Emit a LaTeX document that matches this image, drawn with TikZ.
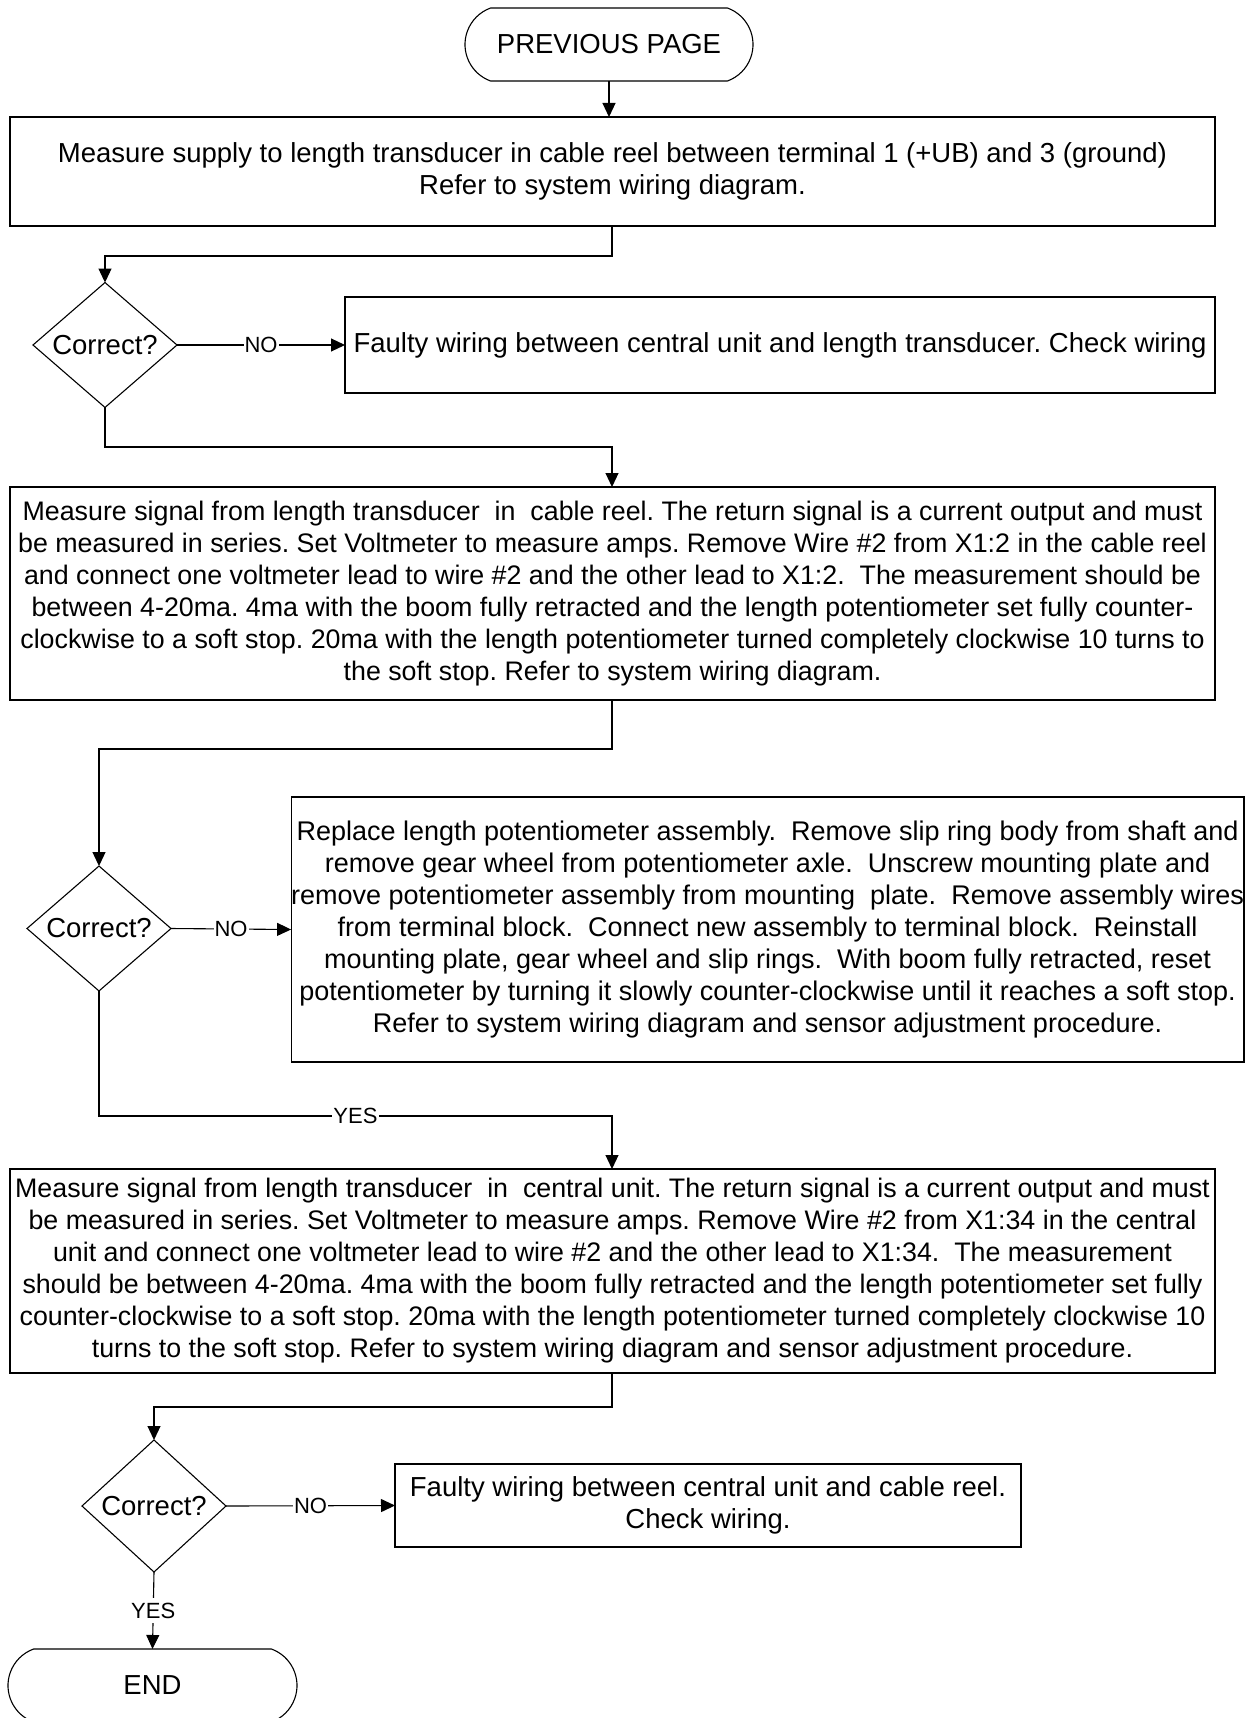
\documentclass[tikz,border=0pt]{standalone}
\usepackage{fontspec}
\setmainfont{Liberation Sans}
\frenchspacing
\usetikzlibrary{arrows.meta,shapes.geometric,shapes.misc}

\begin{document}
\begin{tikzpicture}[x=1pt, y=-1pt, line width=1.1pt,
  every node/.style = {draw, align=center, inner sep=0pt, outer sep=0pt,
    font=\fontsize{27.5pt}{32pt}\selectfont},
  terminal/.style = {shape=rounded rectangle, rounded rectangle arc length=140,
    minimum height=73pt},
  stepbox/.style = {shape=rectangle},
  longbox/.style = {shape=rectangle, font=\fontsize{26.8pt}{32pt}\selectfont},
  decision/.style = {shape=diamond, minimum width=144pt},
  lbl/.style = {draw=none, fill=white, inner xsep=1pt, inner ysep=5pt,
    font=\fontsize{22pt}{24pt}\selectfont},
  flow/.style = {-{Triangle[length=14pt,width=13pt]}}]
  \useasboundingbox (0,0) rectangle (1250,1718);
  \node[terminal, minimum width=288pt] (prev) at (609,44.5) {PREVIOUS PAGE};
  \node[stepbox, minimum width=1205pt, minimum height=109pt] (supply) at (612.5,171.5)
    {Measure supply to length transducer in cable reel between terminal 1 (+UB) and 3 (ground)\\
     Refer to system wiring diagram.};
  \node[decision, minimum height=120pt] (check1) at (105,345) {Correct?};
  \node[stepbox, minimum width=870pt, minimum height=96pt] (fault1) at (780,345)
    {Faulty wiring between central unit and length transducer. Check wiring};
  \node[longbox, minimum width=1205pt, minimum height=213pt] (reel) at (612.5,593.5)
    {Measure signal from length transducer\ \ in\ \ cable reel. The return signal is a current output and must\\
     be measured in series. Set Voltmeter to measure amps. Remove Wire \#2 from X1:2 in the cable reel\\
     and connect one voltmeter lead to wire \#2 and the other lead to X1:2.\ \ The measurement should be\\
     between 4-20ma. 4ma with the boom fully retracted and the length potentiometer set fully counter-\\
     clockwise to a soft stop. 20ma with the length potentiometer turned completely clockwise 10 turns to\\
     the soft stop. Refer to system wiring diagram.};
  \node[decision, minimum height=121pt] (check2) at (99,928.5) {Correct?};
  \node[stepbox, minimum width=951pt, minimum height=265pt,
    font=\fontsize{27pt}{32pt}\selectfont] (replace) at (767.5,929.5)
    {Replace length potentiometer assembly.\ \ Remove slip ring body from shaft and\\
     remove gear wheel from potentiometer axle.\ \ Unscrew mounting plate and\\
     remove potentiometer assembly from mounting\ \ plate.\ \ Remove assembly wires\\
     from terminal block.\ \ Connect new assembly to terminal block.\ \ Reinstall\\
     mounting plate, gear wheel and slip rings.\ \ With boom fully retracted, reset\\
     potentiometer by turning it slowly counter-clockwise until it reaches a soft stop.\\
     Refer to system wiring diagram and sensor adjustment procedure.};
  \node[longbox, minimum width=1205pt, minimum height=204pt] (central) at (612.5,1271)
    {Measure signal from length transducer\ \ in\ \ central unit. The return signal is a current output and must\\
     be measured in series. Set Voltmeter to measure amps. Remove Wire \#2 from X1:34 in the central\\
     unit and connect one voltmeter lead to wire \#2 and the other lead to X1:34.\ \ The measurement\\
     should be between 4-20ma. 4ma with the boom fully retracted and the length potentiometer set fully\\
     counter-clockwise to a soft stop. 20ma with the length potentiometer turned completely clockwise 10\\
     turns to the soft stop. Refer to system wiring diagram and sensor adjustment procedure.};
  \node[decision, minimum height=132pt] (check3) at (154,1506) {Correct?};
  \node[stepbox, minimum width=626pt, minimum height=83pt] (fault2) at (708,1505.5)
    {Faulty wiring between central unit and cable reel.\\ Check wiring.};
  \node[terminal, minimum width=289pt] (end) at (152.5,1685.5) {END};

  \coordinate (bend1) at (0,256);
  \coordinate (bend2) at (0,447);
  \coordinate (bend3) at (0,749);
  \coordinate (bend4) at (0,1116);
  \coordinate (bend5) at (0,1407);

  \draw[flow] (prev.south) -- (prev.south |- supply.north);
  \draw[flow] (supply.south -| 612,0) -- (612,0 |- bend1) -| (check1.north);
  \draw[flow] (check1.east) -- node[lbl] {NO} (fault1.west);
  \draw[flow] (check1.south) |- (612,0 |- bend2) -- (612,0 |- reel.north);
  \draw[flow] (612,0 |- reel.south) -- (612,0 |- bend3) -| (check2.north);
  \draw[flow] (check2.east) -- node[lbl] {NO} (replace.west);
  \draw[flow] (check2.south) |- node[lbl, pos=0.75] {YES} (612,0 |- bend4) -- (612,0 |- central.north);
  \draw[flow] (612,0 |- central.south) -- (612,0 |- bend5) -| (check3.north);
  \draw[flow] (check3.east) -- node[lbl] {NO} (fault2.west);
  \draw[flow] (check3.south) -- node[lbl] {YES} (end.north);
\end{tikzpicture}
\end{document}
